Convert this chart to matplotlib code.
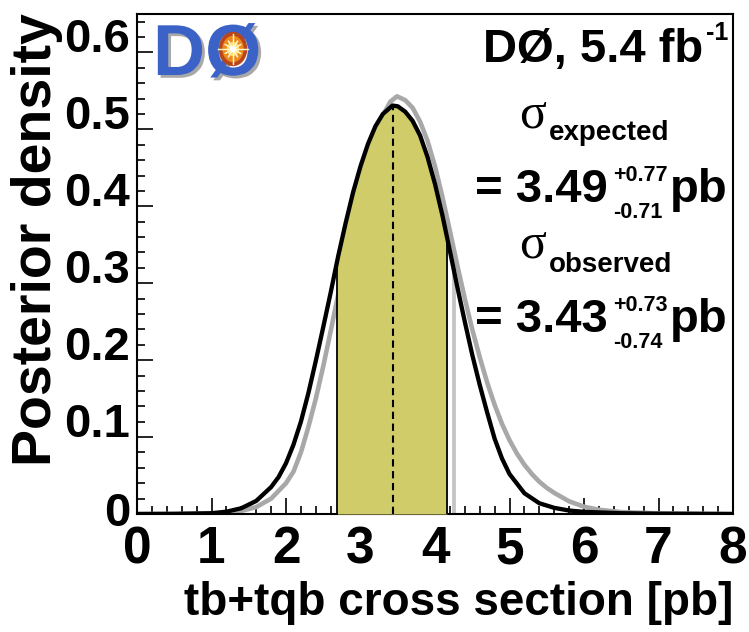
import numpy as np
import matplotlib
matplotlib.use('Agg')
import matplotlib.pyplot as plt
import matplotlib.patheffects as pe
from matplotlib.patches import Ellipse
from matplotlib.lines import Line2D
from matplotlib.ticker import MultipleLocator

plt.rcParams['font.family'] = ['Liberation Sans', 'DejaVu Sans']
plt.rcParams['font.weight'] = 'bold'

# observed posterior density (black curve)
obs_x = [0.0, 0.5, 1.0, 1.2, 1.4, 1.6, 1.8, 1.9, 2.0, 2.1, 2.2, 2.3, 2.4, 2.5, 2.6,
         2.7, 2.8, 2.9, 3.0, 3.1, 3.2, 3.3, 3.43, 3.5, 3.6, 3.7, 3.8, 3.9, 4.0,
         4.1, 4.2, 4.3, 4.4, 4.5, 4.6, 4.7, 4.8, 4.9, 5.0, 5.2, 5.4, 5.6, 5.8,
         6.0, 6.5, 7.0, 8.0]
obs_y = [0.0, 0.0002, 0.001, 0.003, 0.0075, 0.017, 0.035, 0.048, 0.066, 0.090,
         0.120, 0.157, 0.199, 0.243, 0.288, 0.335, 0.378, 0.418, 0.452, 0.481,
         0.504, 0.520, 0.531, 0.530, 0.523, 0.511, 0.492, 0.464, 0.429, 0.388,
         0.342, 0.295, 0.250, 0.207, 0.168, 0.132, 0.098, 0.072, 0.052, 0.027,
         0.014, 0.008, 0.0045, 0.0028, 0.001, 0.0004, 0.0]

# expected posterior density (grey curve)
exp_x = [0.0, 0.5, 1.0, 1.2, 1.4, 1.6, 1.8, 2.0, 2.1, 2.2, 2.3, 2.4, 2.5, 2.6,
         2.7, 2.8, 2.9, 3.0, 3.1, 3.2, 3.3, 3.4, 3.49, 3.6, 3.7, 3.8, 3.9, 4.0,
         4.1, 4.2, 4.3, 4.4, 4.5, 4.6, 4.7, 4.8, 4.9, 5.0, 5.1, 5.2, 5.3, 5.4,
         5.5, 5.6, 5.8, 6.0, 6.2, 6.5, 7.0, 8.0]
exp_y = [0.0, 0.0001, 0.0005, 0.0015, 0.004, 0.009, 0.020, 0.040, 0.055, 0.080,
         0.113, 0.150, 0.192, 0.238, 0.285, 0.332, 0.378, 0.420, 0.458, 0.492,
         0.518, 0.536, 0.543, 0.538, 0.528, 0.510, 0.485, 0.452, 0.412, 0.368,
         0.323, 0.280, 0.240, 0.204, 0.171, 0.142, 0.117, 0.096, 0.0785, 0.064,
         0.052, 0.042, 0.034, 0.0275, 0.0165, 0.0095, 0.0055, 0.0025, 0.0008, 0.0]

obs_central, obs_up, obs_dn = 3.43, 0.73, 0.74
exp_central, exp_up, exp_dn = 3.49, 0.77, 0.71
lumi = 5.4

x_ticks = [0, 1, 2, 3, 4, 5, 6, 7, 8]
y_ticks = [0.0, 0.1, 0.2, 0.3, 0.4, 0.5, 0.6]
y_tick_labels = ['0', '0.1', '0.2', '0.3', '0.4', '0.5', '0.6']

W, H = 749, 632
fig = plt.figure(figsize=(W / 100, H / 100), dpi=100)
ax = fig.add_axes([137 / W, 1 - 514 / H, 596 / W, 500 / H])


def fx(px):
    return px / W


def fy(py):
    return 1 - py / H


# expected curve and its interval edges sit underneath the band
ax.plot(exp_x, exp_y, color='#a8a8a8', lw=3.3, zorder=2)
exp_lo, exp_hi = exp_central - exp_dn, exp_central + exp_up
ax.vlines([exp_lo, exp_hi], 0, np.interp([exp_lo, exp_hi], exp_x, exp_y),
          color='#c6c6c6', lw=2.8, zorder=1.5)

# 68% band of the observed posterior
lo, hi = obs_central - obs_dn, obs_central + obs_up
band_x = [lo] + [v for v in obs_x if lo < v < hi] + [hi]
band_y = np.interp(band_x, obs_x, obs_y)
ax.fill_between(band_x, 0, band_y, color='#cfcc69', lw=0, zorder=3)
ax.vlines([lo, hi], 0, [band_y[0], band_y[-1]], color='k', lw=1.3, zorder=4)
ax.vlines(obs_central, 0, np.interp(obs_central, obs_x, obs_y), color='k',
          lw=1.5, linestyles=(0, (3.5, 2.2)), zorder=4)

ax.plot(obs_x, obs_y, color='k', lw=3.1, zorder=5)

ax.set_xlim(0, 8)
ax.set_ylim(0, 0.65)
ax.set_xticks(x_ticks)
ax.set_yticks(y_ticks, y_tick_labels)
ax.xaxis.set_minor_locator(MultipleLocator(0.2))
ax.yaxis.set_minor_locator(MultipleLocator(0.02))
ax.tick_params(which='both', direction='in', top=False, right=False, width=1.2)
ax.tick_params(which='major', length=11.5)
ax.tick_params(which='minor', length=6)
ax.tick_params(axis='x', labelsize=37, pad=8)
ax.tick_params(axis='y', labelsize=34, pad=5)
for lab in ax.get_yticklabels():
    lab.set_verticalalignment('baseline')
ax.get_yticklabels()[0].set_verticalalignment('center')
for sp in ax.spines.values():
    sp.set_linewidth(1.5)

# axis titles
fig.text(fx(733), fy(615), 'tb+tqb cross section [pb]', fontsize=33,
         ha='right', va='baseline')
fig.text(fx(37), fy(13), 'Posterior density', fontsize=40, rotation=90,
         ha='center', va='top')

# experiment label
fig.text(fx(703), fy(62), 'DØ, %.1f fb' % lumi, fontsize=34, ha='right', va='baseline')
fig.text(fx(706), fy(40), '-1', fontsize=18, ha='left', va='baseline')

# cross section results
sigma_font = dict(family=['Liberation Serif', 'DejaVu Serif'], weight='normal')
rows = [('expected', exp_central, exp_up, exp_dn, 127, 140, 202),
        ('observed', obs_central, obs_up, obs_dn, 258, 272, 332)]
for name, c, up, dn, y_sig, y_name, y_val in rows:
    fig.text(fx(519), fy(y_sig), 'σ', fontsize=36, ha='left', va='baseline', **sigma_font)
    fig.text(fx(549), fy(y_name), name, fontsize=20, ha='left', va='baseline')
    fig.text(fx(475), fy(y_val), '= %.2f' % c, fontsize=34, ha='left', va='baseline')
    fig.text(fx(613), fy(y_val - 21), '+%.2f' % up, fontsize=15.5, ha='left', va='baseline')
    fig.text(fx(613), fy(y_val + 16), '-%.2f' % dn, fontsize=15.5, ha='left', va='baseline')
    fig.text(fx(670), fy(y_val), 'pb', fontsize=34, ha='left', va='baseline')

# DØ logo
logo_blue = '#3b62c6'
fig.text(fx(153), fy(75), 'DØ', fontsize=52, color=logo_blue, ha='left', va='baseline',
         path_effects=[pe.SimplePatchShadow(offset=(2, -2), shadow_rgbFace='#a8a8a8',
                                            alpha=1), pe.Normal()])
cx, cy = 233, 49
for w, h, col in [(27, 33, '#b8461a'), (20, 25, '#ee8a1c'), (11, 13, '#ffd860')]:
    fig.add_artist(Ellipse((fx(cx), fy(cy)), w / W, h / H, color=col,
                           transform=fig.transFigure, zorder=5))
for ang in range(0, 360, 30):
    r = 15 if ang % 90 == 0 else 9
    dx, dy = r * np.cos(np.radians(ang)), r * np.sin(np.radians(ang))
    fig.add_artist(Line2D([fx(cx - dx), fx(cx + dx)], [fy(cy - dy), fy(cy + dy)],
                          color='#fff6c8', lw=0.9, transform=fig.transFigure, zorder=6))
fig.add_artist(Ellipse((fx(cx), fy(cy)), 5 / W, 5 / H, color='white',
                       transform=fig.transFigure, zorder=7))

fig.savefig('out.png', dpi=100)
